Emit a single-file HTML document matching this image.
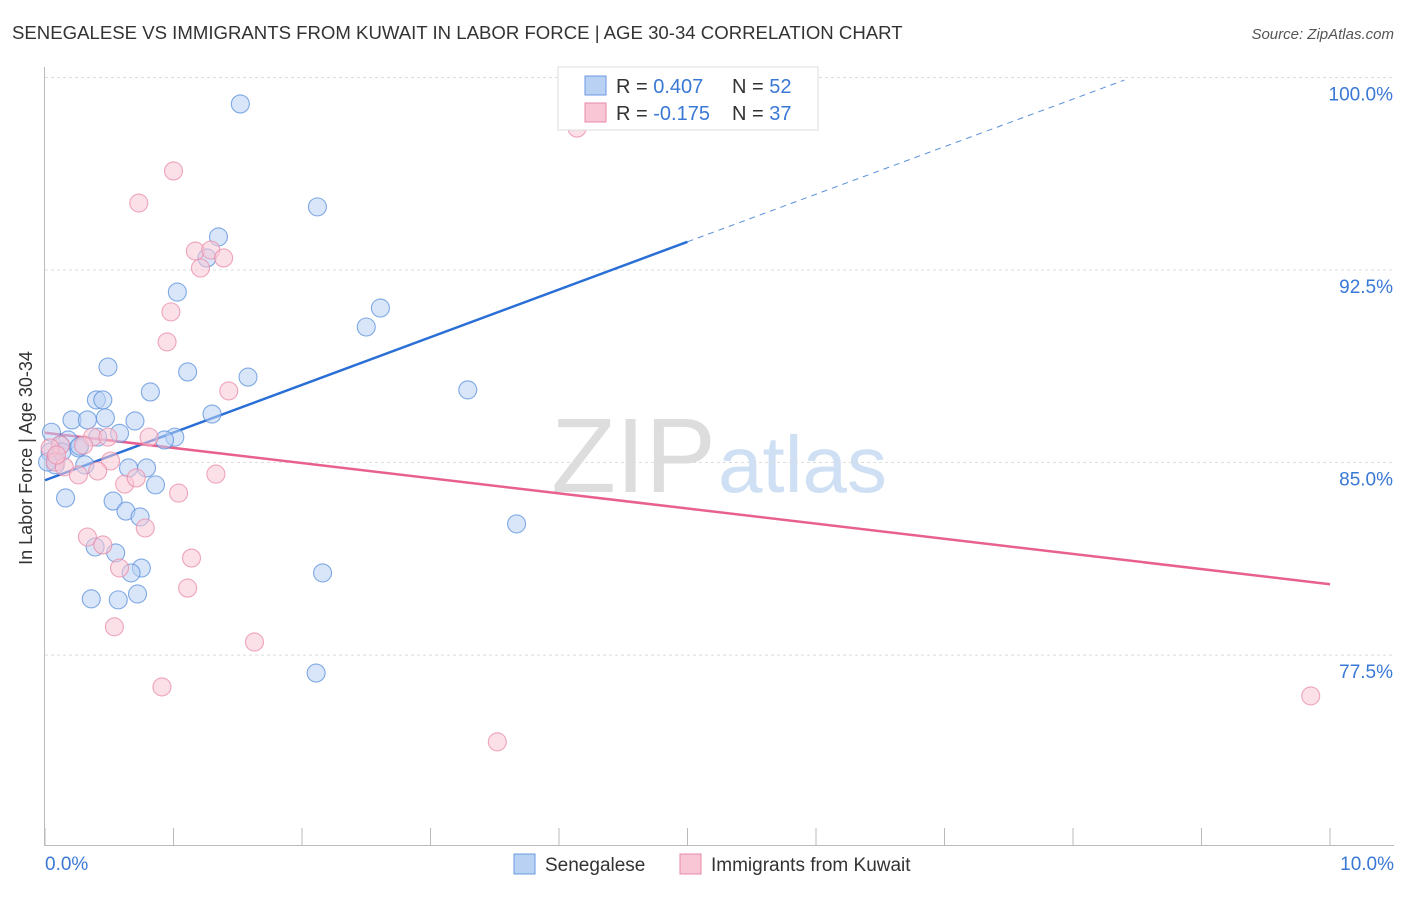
<!DOCTYPE html>
<html><head><meta charset="utf-8"><style>
body{margin:0;background:#fff;font-family:"Liberation Sans",sans-serif}
svg text{font-family:"Liberation Sans",sans-serif}
</style></head><body>
<svg id="chart" width="1406" height="892">
<text x="12" y="39" font-size="18.6" fill="#333">SENEGALESE VS IMMIGRANTS FROM KUWAIT IN LABOR FORCE | AGE 30-34 CORRELATION CHART</text>
<text x="1394" y="39" font-size="15" fill="#555" font-style="italic" text-anchor="end">Source: ZipAtlas.com</text>
<text x="32" y="458" font-size="18" fill="#333" text-anchor="middle" transform="rotate(-90 32 458)">In Labor Force | Age 30-34</text>
<text x="716" y="492" font-size="106" fill="#ddd" text-anchor="end" font-family="Liberation Serif">ZIP</text>
<text x="718" y="492" font-size="80" fill="#cfe0f4">atlas</text>
<g id="grid"></g><g id="axes"></g><g id="lines"></g><g id="pts"></g>
<g>
<rect x="558" y="67" width="260" height="63" fill="#fff" stroke="#ddd"/>
<rect x="585" y="76" width="21" height="19" fill="#b9d2f4" stroke="#6a9ae0"/>
<rect x="585" y="103" width="21" height="19" fill="#f9c6d6" stroke="#e88aa8"/>
<text x="616" y="93" font-size="20" fill="#333">R = <tspan fill="#3a78d6">0.407</tspan><tspan x="732">N = </tspan><tspan fill="#3a78d6">52</tspan></text>
<text x="616" y="120" font-size="20" fill="#333">R = <tspan fill="#3a78d6">-0.175</tspan><tspan x="732">N = </tspan><tspan fill="#3a78d6">37</tspan></text>
</g>
<g>
<rect x="514" y="854" width="21" height="20" fill="#b9d2f4" stroke="#6a9ae0"/>
<text x="545" y="871" font-size="19" fill="#333">Senegalese</text>
<rect x="680" y="854" width="21" height="20" fill="#f9c6d6" stroke="#e88aa8"/>
<text x="711" y="871" font-size="19" fill="#333">Immigrants from Kuwait</text>
</g>
</svg>
<script>
const yTicks=[100,92.5,85,77.5];
const yTickLabels=["100.0%","92.5%","85.0%","77.5%"];
const xTickLabels=["0.0%","10.0%"];
const blueX=[1.52,2.12,1.35,1.26,1.03,2.61,2.50,0.49,1.11,1.58,3.29,0.82,0.40,0.45,0.21,0.33,0.47,0.70,1.30,0.05,0.58,1.01,0.93,0.18,0.41,0.12,0.26,0.04,0.08,0.31,0.65,0.79,0.16,0.53,0.86,0.63,0.74,3.67,0.39,0.55,0.75,0.67,2.16,0.36,0.57,0.72,2.11,0.08,0.02,0.27,0.13,5.02];
const blueY=[98.97,94.96,93.79,92.97,91.64,91.02,90.28,88.72,88.53,88.33,87.83,87.75,87.44,87.44,86.66,86.66,86.74,86.62,86.89,86.18,86.14,85.99,85.88,85.88,85.99,85.68,85.57,85.41,85.18,84.91,84.79,84.79,83.62,83.50,84.13,83.11,82.88,82.61,81.71,81.48,80.89,80.70,80.70,79.69,79.65,79.88,76.80,84.91,85.02,85.64,85.41,99.90];
const pinkX=[4.14,1.00,0.73,1.17,1.29,1.39,1.21,0.98,0.95,1.43,0.81,0.37,0.12,0.49,0.30,0.51,0.04,0.08,0.15,0.41,0.26,0.62,0.71,1.33,1.04,0.78,0.33,0.45,1.14,0.58,1.11,0.54,1.63,0.91,3.52,9.85,0.09];
const pinkY=[98.03,96.36,95.11,93.24,93.28,92.97,92.58,90.87,89.70,87.79,85.99,85.99,85.68,85.99,85.68,85.06,85.57,85.02,84.83,84.67,84.52,84.16,84.40,84.55,83.81,82.45,82.10,81.79,81.28,80.89,80.11,78.60,78.01,76.26,74.12,75.91,85.29];
const blueTrend=[84.31,93.6,99.9]; const blueTrendX=[0,5.0,8.4];
const pinkTrend=[86.16,80.26]; const pinkTrendX=[0,10];
const X=v=>45+v*128.5, Y=v=>77.5+(100-v)*25.67;
const NS="http://www.w3.org/2000/svg";
function mk(t,a,p){const e=document.createElementNS(NS,t);for(const k in a)e.setAttribute(k,a[k]);document.getElementById(p).appendChild(e);return e;}
yTicks.forEach((t,i)=>{
 const l=mk('line',{x1:45,x2:1394,y1:Y(t),y2:Y(t),stroke:'#ddd','stroke-dasharray':'3,3'},'grid');
 
 
 const tx=mk('text',{x:1393,y:Y(t)+23,'font-size':19,fill:'#3a78d6','text-anchor':'end'},'grid');tx.textContent=yTickLabels[i];
 
 
});
mk('line',{x1:44.5,x2:44.5,y1:67,y2:845,stroke:'#bbb'},'axes');
mk('line',{x1:44,x2:1394,y1:845.5,y2:845.5,stroke:'#bbb'},'axes');
for(let i=0;i<=10;i++){const tk=mk('line',{x1:X(i),x2:X(i),y1:828,y2:845,stroke:'#bbb'},'axes');
 
 }
[[0,'start',45],[10,'end',1394]].forEach((d,i)=>{const t=mk('text',{x:d[2],y:870,'font-size':19,fill:'#3a78d6','text-anchor':d[1]},'axes');t.textContent=xTickLabels[i];
 
 });
function dots(xs,ys,fill,stroke,name){xs.forEach((x,i)=>{const c=mk('circle',{cx:X(x),cy:Y(ys[i]),r:9,fill:fill,'fill-opacity':0.55,stroke:stroke,'stroke-opacity':0.75,'stroke-width':1.1},'pts');
 
 });}
dots(blueX,blueY,'#b9d2f4','#5a8fdc','senegalese-point');
dots(pinkX,pinkY,'#f9c6d6','#e88aa8','kuwait-point');
let b=mk('line',{x1:X(blueTrendX[0]),y1:Y(blueTrend[0]),x2:X(blueTrendX[1]),y2:Y(blueTrend[1]),stroke:'#2a6fd6','stroke-width':2.5},'lines');


let bd=mk('line',{x1:X(blueTrendX[1]),y1:Y(blueTrend[1]),x2:X(blueTrendX[2]),y2:Y(blueTrend[2]),stroke:'#5a8fdc','stroke-width':1,'stroke-dasharray':'6,5'},'lines');


let p=mk('line',{x1:X(pinkTrendX[0]),y1:Y(pinkTrend[0]),x2:X(pinkTrendX[1]),y2:Y(pinkTrend[1]),stroke:'#e8608e','stroke-width':2.5},'lines');


</script>
</body></html>
